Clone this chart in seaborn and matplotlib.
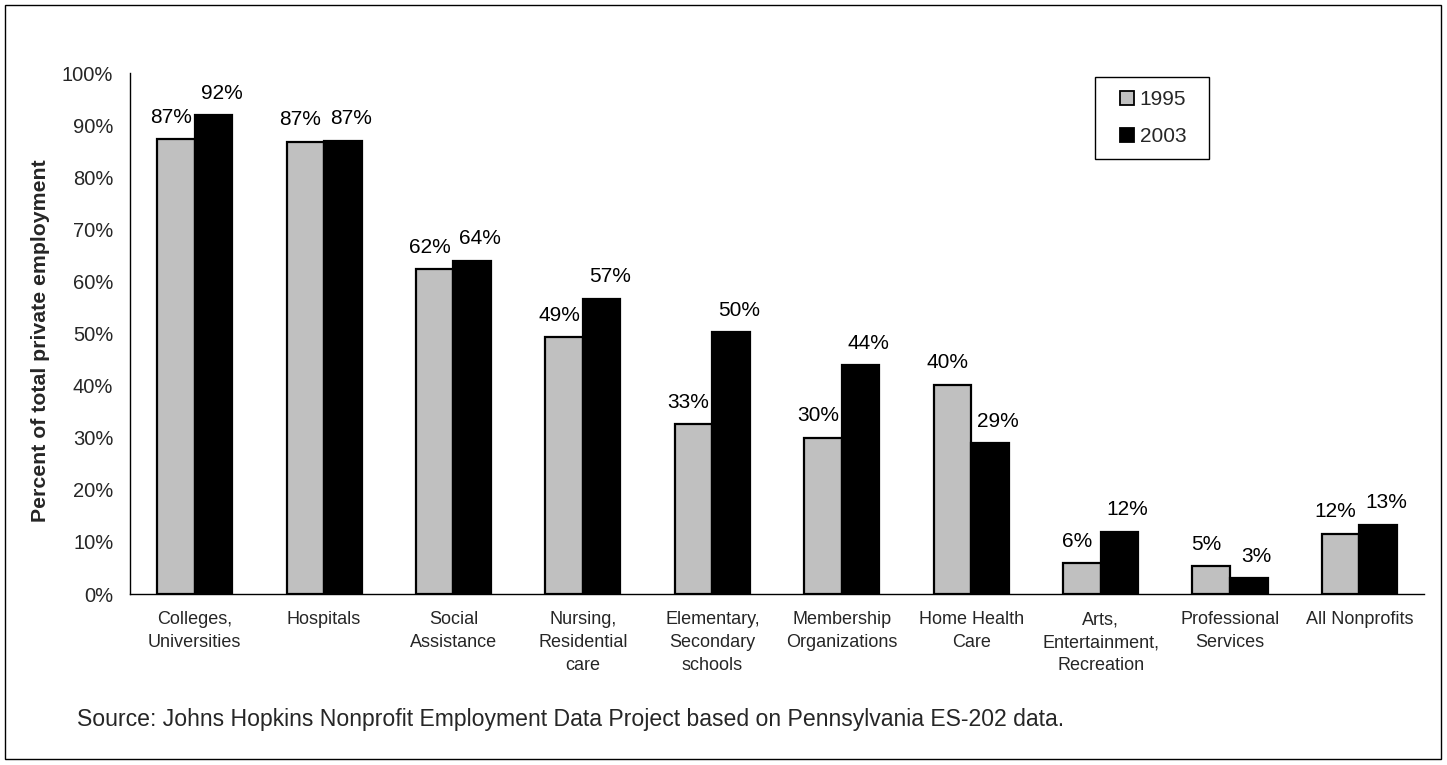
import matplotlib
matplotlib.use("Agg")
import matplotlib.pyplot as plt
import seaborn as sns
import pandas as pd
from matplotlib.patches import Rectangle
from matplotlib.lines import Line2D
from matplotlib.ticker import FixedLocator, FuncFormatter

# Nonprofit share of total private employment by industry, Pennsylvania
categories = [
    "Colleges,\nUniversities",
    "Hospitals",
    "Social\nAssistance",
    "Nursing,\nResidential\ncare",
    "Elementary,\nSecondary\nschools",
    "Membership\nOrganizations",
    "Home Health\nCare",
    "Arts,\nEntertainment,\nRecreation",
    "Professional\nServices",
    "All Nonprofits",
]
years = ["1995", "2003"]
share_1995 = [87.4, 86.9, 62.4, 49.3, 32.6, 30.0, 40.2, 5.9, 5.3, 11.6]
share_2003 = [92.0, 87.1, 64.0, 56.7, 50.3, 44.0, 29.0, 12.0, 3.0, 13.3]
year_colors = {"1995": "#C0C0C0", "2003": "#000000"}
y_ticks = list(range(0, 101, 10))
source_note = ("Source: Johns Hopkins Nonprofit Employment Data Project "
               "based on Pennsylvania ES-202 data.")

df = pd.DataFrame({
    "category": categories * 2,
    "year": [years[0]] * len(categories) + [years[1]] * len(categories),
    "share": share_1995 + share_2003,
})

sns.set_style("white")
plt.rcParams["font.family"] = ["Liberation Sans", "DejaVu Sans"]

fig = plt.figure(figsize=(14.47, 7.65), dpi=100)
ax = fig.add_axes([0.0898, 0.2235, 0.8944, 0.6805])

sns.barplot(
    data=df, x="category", y="share", hue="year",
    order=categories, hue_order=years, palette=year_colors,
    width=0.58, gap=0, edgecolor="black", linewidth=1.6,
    saturation=1, errorbar=None, legend=False, ax=ax,
)

# value labels above each bar, nudged apart within each pair
for container, dx in zip(ax.containers, [-3.6, 5.8]):
    for bar in container:
        h = bar.get_height()
        ax.annotate(
            f"{h:.0f}%",
            xy=(bar.get_x() + bar.get_width() / 2, h),
            xytext=(dx, 15.8), textcoords="offset points",
            ha="center", va="center", fontsize=15, color="black",
        )

ax.set_xlim(-0.5, len(categories) - 0.5)
ax.set_ylim(0, 100)
ax.yaxis.set_major_locator(FixedLocator(y_ticks))
ax.yaxis.set_major_formatter(FuncFormatter(lambda v, p: f"{v:.0f}%"))
ax.tick_params(axis="y", which="major", direction="out", length=5,
               width=1, color="black", labelsize=14.5, pad=7)

# category separators on the x axis
ax.xaxis.set_minor_locator(FixedLocator([i - 0.5 for i in range(len(categories) + 1)]))
ax.tick_params(axis="x", which="minor", direction="out", length=6,
               width=1, color="black")
ax.tick_params(axis="x", which="major", length=0, pad=12.5, labelsize=13)
for lbl in ax.get_xticklabels():
    lbl.set_linespacing(1.45)
    lbl.set_verticalalignment("top")

ax.set_xlabel("")
ax.set_ylabel("Percent of total private employment", fontsize=15.3,
              fontweight="bold")
ax.yaxis.set_label_coords(-0.062, 0.486)

for side in ("top", "right"):
    ax.spines[side].set_visible(False)
for side in ("left", "bottom"):
    ax.spines[side].set_color("black")
    ax.spines[side].set_linewidth(1)

handles = [Line2D([], [], linestyle="", marker="s", markersize=9.7,
                  markerfacecolor=year_colors[y], markeredgecolor="black",
                  markeredgewidth=1.3) for y in years]
leg = ax.legend(
    handles, years, loc="upper left",
    bbox_to_anchor=(0.7457, 0.9933 - 0.152, 0.0881, 0.152),
    mode="expand", borderaxespad=0,
    fontsize=15, frameon=True, fancybox=False, framealpha=1,
    edgecolor="black", handlelength=1.84, handletextpad=-0.31,
    labelspacing=0.88, borderpad=0.62,
)
leg.get_frame().set_linewidth(1)

fig.text(0.0532, 0.060, source_note, fontsize=16.6, ha="left", va="center")

# outer border around the whole figure
fig.patches.append(Rectangle((0.0035, 0.0078), 0.9924, 0.9857,
                             transform=fig.transFigure, fill=False,
                             edgecolor="black", linewidth=1))

fig.savefig("out.png", dpi=100, facecolor="white")
